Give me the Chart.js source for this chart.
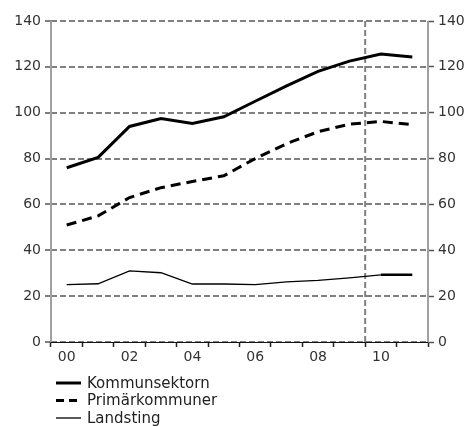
<!DOCTYPE html>
<html lang="sv">
<head>
<meta charset="UTF-8">
<title>Kommunsektorn</title>
<script src="https://cdn.jsdelivr.net/npm/chart.js@4.4.0/dist/chart.umd.min.js"></script>
<style>
  body { margin: 0; background: #fff; }
</style>
</head>
<body>
<canvas id="myChart" width="469" height="427"></canvas>
<script>
    var years = ['00', '01', '02', '03', '04', '05', '06', '07', '08', '09', '10', '11'];
    var kommunsektorn = [76, 80.5, 94, 97.5, 95.3, 98.2, 105, 111.7, 118, 122.5, 125.6, 124.3];
    var primarkommuner = [51, 55, 63, 67.3, 70, 72.5, 80, 86.5, 91.7, 95, 96.2, 94.8];
    var landsting = [25, 25.4, 31, 30.2, 25.3, 25.3, 25, 26.2, 26.9, 28, 29.3, 29.3];
    var yTicks = [0, 20, 40, 60, 80, 100, 120, 140];
    var splitYear = 9.5; // dashed divider between 09 and 10

    var font = { family: 'DejaVu Sans', size: 14 };
    var gridGrey = '#808080';

    // dashed year divider, under the lines
    var dividerPlugin = {
        id: 'divider',
        beforeDatasetsDraw: function (chart) {
            var a = chart.chartArea, ctx = chart.ctx;
            var xs = chart.scales.x.getPixelForValue(splitYear);
            ctx.save();
            ctx.lineWidth = 2;
            ctx.strokeStyle = gridGrey;
            ctx.setLineDash([6, 3]);
            ctx.beginPath();
            ctx.moveTo(xs, a.top);
            ctx.lineTo(xs, a.bottom);
            ctx.stroke();
            ctx.restore();
        }
    };

    // solid axis lines and the legend, drawn last
    var overlayPlugin = {
        id: 'overlay',
        afterDraw: function (chart) {
            var a = chart.chartArea, ctx = chart.ctx;
            ctx.save();
            ctx.setLineDash([]);
            ctx.lineWidth = 2;
            ctx.strokeStyle = '#a0a0a0';
            ctx.beginPath();
            ctx.moveTo(a.left, a.top);
            ctx.lineTo(a.left, a.bottom);
            ctx.moveTo(a.right, a.top);
            ctx.lineTo(a.right, a.bottom);
            ctx.stroke();
            ctx.lineWidth = 1;
            ctx.strokeStyle = '#111';
            ctx.beginPath();
            ctx.moveTo(a.left, a.bottom + 0.5);
            ctx.lineTo(a.right, a.bottom + 0.5);
            ctx.stroke();

            var x0 = 56, x1 = 81, y = 383;
            ctx.font = '15px "DejaVu Sans"';
            ctx.textBaseline = 'middle';
            chart.data.datasets.forEach(function (ds, i) {
                var yy = y + i * 17.5;
                ctx.beginPath();
                ctx.setLineDash(ds.legendDash || []);
                ctx.lineWidth = ds.borderWidth;
                ctx.strokeStyle = ds.borderColor;
                ctx.moveTo(x0, yy);
                ctx.lineTo(x1, yy);
                ctx.stroke();
                ctx.setLineDash([]);
                ctx.fillStyle = '#222';
                ctx.fillText(ds.label, 87, yy + 1);
            });
            ctx.restore();
        }
    };

    var ctx = document.getElementById('myChart');
    var myChart = new Chart(ctx, {
        type: 'line',
        data: {
            labels: years,
            datasets: [{
                label: 'Kommunsektorn',
                data: kommunsektorn,
                borderColor: '#000',
                borderWidth: 3,
                pointRadius: 0
            }, {
                label: 'Primärkommuner',
                data: primarkommuner,
                borderColor: '#000',
                borderWidth: 3,
                borderDash: [10, 6],
                legendDash: [8, 5],
                pointRadius: 0
            }, {
                label: 'Landsting',
                data: landsting,
                borderColor: '#000',
                borderWidth: 1.3,
                pointRadius: 0,
                segment: {
                    borderWidth: function (c) { return c.p0DataIndex === 10 ? 2.5 : 1.3; }
                }
            }]
        },
        options: {
            responsive: false,
            animation: false,
            layout: { padding: { top: 21, bottom: 60, left: 0, right: 0 } },
            plugins: {
                legend: { display: false },
                tooltip: { enabled: false }
            },
            scales: {
                x: {
                    offset: true,
                    afterFit: function (s) { s.height = 25; },
                    grid: {
                        offset: true,
                        drawOnChartArea: false,
                        tickColor: '#222',
                        tickLength: 5,
                        tickWidth: 1.5
                    },
                    border: { display: false },
                    ticks: {
                        autoSkip: false,
                        maxRotation: 0,
                        color: '#333',
                        font: font,
                        padding: 2,
                        callback: function (v, i) { return i % 2 === 0 ? years[i] : ''; }
                    }
                },
                y: {
                    position: 'left',
                    min: 0,
                    max: 140,
                    afterFit: function (s) { s.width = 51; },
                    afterBuildTicks: function (s) { s.ticks = yTicks.map(function (v) { return { value: v }; }); },
                    grid: {
                        color: gridGrey,
                        lineWidth: 2,
                        tickColor: '#555',
                        tickLength: 6,
                        tickWidth: 1.5
                    },
                    border: { display: false, dash: [6, 3] },
                    ticks: { color: '#333', font: font, padding: 4 }
                },
                y2: {
                    position: 'right',
                    min: 0,
                    max: 140,
                    afterFit: function (s) { s.width = 41; },
                    afterBuildTicks: function (s) { s.ticks = yTicks.map(function (v) { return { value: v }; }); },
                    grid: {
                        drawOnChartArea: false,
                        tickColor: '#555',
                        tickLength: 6,
                        tickWidth: 1.5
                    },
                    border: { display: false },
                    ticks: { color: '#333', font: font, padding: 4 }
                }
            }
        },
        plugins: [dividerPlugin, overlayPlugin]
    });
</script>
</body>
</html>
